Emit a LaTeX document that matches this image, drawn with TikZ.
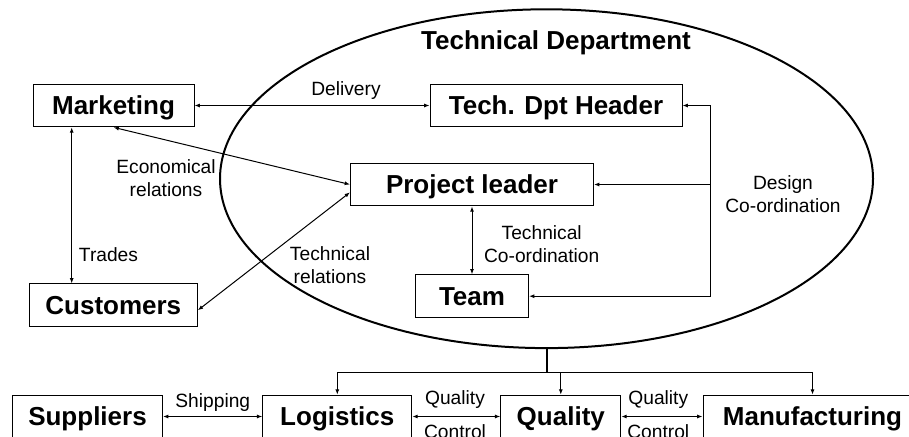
\documentclass[tikz,border=0pt]{standalone}
\usepackage{fontspec}
\setmainfont{Liberation Sans}
\usetikzlibrary{arrows.meta, shapes.geometric}

\tikzset{
  unit/.style={draw, line width=0.75pt, inner sep=0pt, minimum height=32pt,
    text height=14pt, text depth=0pt, font=\fontsize{19.5}{23}\selectfont\bfseries},
  rel/.style={align=center, inner sep=0pt, font=\fontsize{14.4}{17}\selectfont},
  link/.style={line width=0.75pt, {Latex[length=4pt,width=3pt]}-{Latex[length=4pt,width=3pt]}},
  feed/.style={line width=0.75pt, -{Latex[length=4pt,width=3pt]}},
}

\begin{document}
\begin{tikzpicture}[x=0.75pt, y=-0.75pt]
\useasboundingbox (0,0) rectangle (909,436);
\clip (0,0) rectangle (909,436);

% the department
\node[draw, ellipse, line width=1.5pt, inner sep=0pt,
  minimum width=489.75pt, minimum height=254.1pt] (dept) at (546.5,178.7) {};
\node[font=\fontsize{19.5}{23}\selectfont\bfseries] (title) at (556,43) {Technical Department};

% units
\node[unit, minimum width=120.75pt] (mkt) at (113.5,105.5) {Marketing};
\node[unit, minimum width=189pt] (tdh) at (556,105.5) {Tech. Dpt Header};
\node[unit, minimum width=182.25pt] (pl) at (472,184.5) {Project leader};
\node[unit, minimum width=126pt] (cust) at (113.3,305.3) {Customers};
\node[unit, minimum width=84.75pt] (team) at (472,296.2) {Team};

\node[unit, minimum width=112.5pt] (sup) at (87.5,416.5) {Suppliers};
\node[unit, minimum width=111.75pt] (log) at (337.3,416.5) {Logistics};
\node[unit, minimum width=90pt] (qual) at (560.8,416.5) {Quality};
\node[unit, minimum width=164.25pt] (mfg) at (812.5,416.5) {Manufacturing};

\coordinate (trd) at (71.7,0);
\coordinate (dcx) at (710,200);
\coordinate (bus) at (0,372.7);

% relations
\draw[link] (mkt) -- (tdh);
\draw[link] (mkt.south) -- (pl.west);
\draw[link] (mkt.south -| trd) -- (cust.north -| trd);
\draw[link] ([yshift=-3.75pt]cust.east) -- ([yshift=-5.9pt]pl.west);
\draw[link] (pl.south) -- (team.north);
\draw[link] (tdh.east) -| (dcx) |- (team.east);
\draw[feed] (pl.east -| dcx) -- (pl.east);

\node[rel] (dlv) at (346,90.7) {Delivery};
\node[rel] (eco) at (166,178.3) {Economical\\relations};
\node[rel] (trades) at (108.5,254.3) {Trades};
\node[rel] (tecrel) at (330,265) {Technical\\relations};
\node[rel] (teccoo) at (541.7,244.3) {Technical\\Co-ordination};
\node[rel] (descoo) at (783,194.4) {Design\\Co-ordination};

% production chain
\draw[line width=1.5pt] (dept.south) -- (dept.south |- bus);
\draw[line width=0.75pt] (log.north |- bus) -- (mfg.north |- bus);
\draw[feed] (log.north |- bus) -- (log.north);
\draw[feed] (qual.north |- bus) -- (qual.north);
\draw[feed] (mfg.north |- bus) -- (mfg.north);

\draw[link] (sup) -- (log);
\draw[link] (log) -- (qual);
\draw[link] (qual) -- (mfg);

\node[rel] (ship) at (212.8,403) {Shipping};
\node[rel] (qc1) at (455,415) {Quality\\[8.5pt]Control};
\node[rel] (qc2) at (658.3,415) {Quality\\[8.5pt]Control};
\end{tikzpicture}
\end{document}
